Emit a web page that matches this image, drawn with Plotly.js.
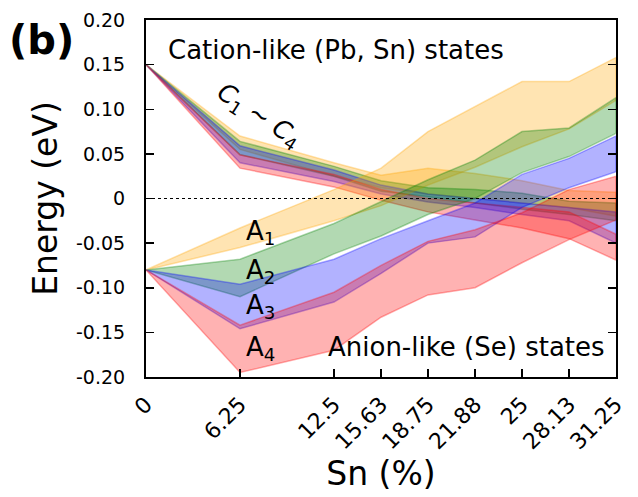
<!DOCTYPE html>
<html>
<head>
<meta charset="utf-8">
<script src="https://cdn.plot.ly/plotly-3.0.1.min.js"></script>
<style>html,body{margin:0;padding:0;background:#fff;}#chart{width:638px;height:497px;}</style>
</head>
<body>
<div id="chart"></div>
<script>
// Sn content (%) and tick labels
const snPercent = [0, 6.25, 12.5, 15.63, 18.75, 21.88, 25, 28.13, 31.25];
const snLabels = ["0", "6.25", "12.5", "15.63", "18.75", "21.88", "25", "28.13", "31.25"];
const energyTicks = [0.20, 0.15, 0.10, 0.05, 0, -0.05, -0.10, -0.15, -0.20];
const energyLabels = ["0.20", "0.15", "0.10", "0.05", "0", "-0.05", "-0.10", "-0.15", "-0.20"];

// Cation-like states C1..C4 (upper / lower edges, eV)
const c1Upper = [0.15, 0.070, 0.040, 0.026, 0.034, 0.028, 0.020, 0.009, 0.007];
const c1Lower = [0.15, 0.055, 0.025, 0.012, 0.005, 0.000, -0.005, -0.010, -0.020];
const c2Upper = [0.15, 0.064, 0.036, 0.020, 0.012, 0.010, 0.006, -0.003, -0.005];
const c2Lower = [0.15, 0.049, 0.025, 0.008, 0.002, -0.005, -0.012, -0.018, -0.025];
const c3Upper = [0.15, 0.059, 0.032, 0.015, 0.005, 0.000, -0.005, -0.010, -0.015];
const c3Lower = [0.15, 0.040, 0.019, 0.005, -0.004, -0.010, -0.018, -0.025, -0.050];
const c4Upper = [0.15, 0.049, 0.027, 0.010, 0.000, -0.005, -0.010, -0.015, -0.040];
const c4Lower = [0.15, 0.034, 0.013, -0.002, -0.015, -0.024, -0.033, -0.045, -0.069];

// Anion-like states A1..A4 (upper / lower edges, eV)
const a1Upper = [-0.08, -0.033, 0.010, 0.034, 0.075, 0.103, 0.131, 0.131, 0.158];
const a1Lower = [-0.08, -0.055, -0.025, -0.008, 0.015, 0.035, 0.058, 0.078, 0.110];
const a2Upper = [-0.08, -0.068, -0.028, -0.003, 0.021, 0.043, 0.075, 0.079, 0.113];
const a2Lower = [-0.08, -0.110, -0.062, -0.042, -0.018, 0.000, 0.029, 0.047, 0.073];
const a3Upper = [-0.08, -0.096, -0.068, -0.045, -0.025, -0.005, 0.027, 0.045, 0.070];
const a3Lower = [-0.08, -0.146, -0.116, -0.084, -0.050, -0.043, -0.010, 0.012, 0.030];
const a4Upper = [-0.08, -0.142, -0.105, -0.075, -0.048, -0.035, -0.016, 0.010, 0.025];
const a4Lower = [-0.08, -0.195, -0.170, -0.133, -0.108, -0.100, -0.072, -0.046, -0.024];

const orange = "255,165,0", green = "0,128,0", blue = "0,0,255", red = "255,0,0";

const bands = [
  [c1Upper, c1Lower, orange], [c2Upper, c2Lower, green], [c3Upper, c3Lower, blue], [c4Upper, c4Lower, red],
  [a1Upper, a1Lower, orange], [a2Upper, a2Lower, green], [a3Upper, a3Lower, blue], [a4Upper, a4Lower, red]
];

const traces = bands.map(([up, lo, rgb]) => ({
  x: snPercent.concat(snPercent.slice().reverse()),
  y: up.concat(lo.slice().reverse()),
  type: "scatter", mode: "lines", fill: "toself",
  fillcolor: `rgba(${rgb},0.3)`,
  line: {color: `rgba(${rgb},0.32)`, width: 1.5},
  hoverinfo: "skip", showlegend: false
}));

// zero reference line
traces.push({
  x: [snPercent[0], snPercent[snPercent.length - 1]], y: [0, 0],
  type: "scatter", mode: "lines",
  line: {color: "#000", width: 1, dash: "dot"}, showlegend: false, hoverinfo: "skip"
});

const font = "DejaVu Sans, Liberation Sans, sans-serif";
const layout = {
  width: 638, height: 497,
  margin: {l: 146, r: 22, t: 20, b: 120},
  paper_bgcolor: "#fff", plot_bgcolor: "#fff",
  font: {family: font, color: "#000", size: 19},
  showlegend: false,
  xaxis: {
    range: [0, 31.25], tickvals: snPercent, ticktext: snLabels, tickangle: -45,
    ticks: "inside", ticklen: 8, tickwidth: 1.5, tickcolor: "#000",
    showline: true, linecolor: "#000", linewidth: 2, mirror: true,
    showgrid: false, zeroline: false, tickfont: {size: 22}, ticklabelstandoff: 4,
    title: {text: "Sn (%)", font: {size: 33}, standoff: 8}
  },
  yaxis: {
    range: [-0.2, 0.2], tickvals: energyTicks, ticktext: energyLabels,
    ticks: "inside", ticklen: 8, tickwidth: 1.5, tickcolor: "#000",
    showline: true, linecolor: "#000", linewidth: 2, mirror: "ticks",
    showgrid: false, zeroline: false, tickfont: {size: 19}, ticklabelstandoff: 15,
    title: {text: "Energy (eV)", font: {size: 33}, standoff: 8}
  },
  annotations: [
    {text: "<b>(b)</b>", xref: "paper", yref: "paper", x: -0.295, y: 0.945, xanchor: "left", yanchor: "middle", showarrow: false, font: {size: 40}},
    {text: "Cation-like (Pb, Sn) states", xref: "x", yref: "y", x: 1.3, y: 0.166, xanchor: "left", yanchor: "middle", showarrow: false, font: {size: 26}},
    {text: "Anion-like (Se) states", xref: "x", yref: "y", x: 12.0, y: -0.166, xanchor: "left", yanchor: "middle", showarrow: false, font: {size: 26}},
    {text: "<i>C</i><sub>1</sub> ~ <i>C</i><sub>4</sub>", xref: "x", yref: "y", x: 7.5, y: 0.093, textangle: 33, showarrow: false, font: {size: 25}},
    {text: "A<sub>1</sub>", xref: "x", yref: "y", x: 7.6, y: -0.038, showarrow: false, font: {size: 26}},
    {text: "A<sub>2</sub>", xref: "x", yref: "y", x: 7.6, y: -0.082, showarrow: false, font: {size: 26}},
    {text: "A<sub>3</sub>", xref: "x", yref: "y", x: 7.6, y: -0.121, showarrow: false, font: {size: 26}},
    {text: "A<sub>4</sub>", xref: "x", yref: "y", x: 7.6, y: -0.168, showarrow: false, font: {size: 26}}
  ]
};

Plotly.newPlot("chart", traces, layout, {staticPlot: true, displayModeBar: false});
</script>
</body>
</html>
